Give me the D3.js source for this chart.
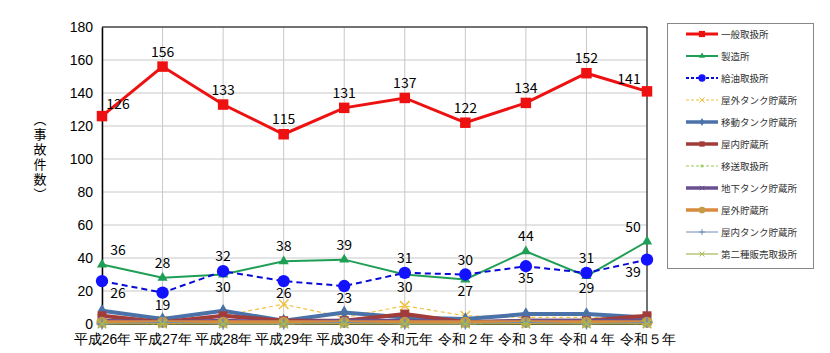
<!DOCTYPE html>
<meta charset="utf-8">
<script src="https://d3js.org/d3.v7.min.js"></script>
<style>
body { margin: 0; background: #fff; }
svg { font-family: "Noto Sans CJK JP", "Noto Sans", sans-serif; }
.lbl { font-size: 14px; fill: #000; text-anchor: middle; }
.legtext { font-size: 9.5px; fill: #333; }
</style>
<div id="chart"></div>
<script>
var years = ["平成26年","平成27年","平成28年","平成29年","平成30年","令和元年","令和２年","令和３年","令和４年","令和５年"];
var yTicks = [0,20,40,60,80,100,120,140,160,180];

var ippan      = [126,156,133,115,131,137,122,134,152,141];
var seizo      = [36,28,30,38,39,30,27,44,29,50];
var kyuyu      = [26,19,32,26,23,31,30,35,31,39];
var okugaiTank = [3,2,5,12,4,11,5,4,4,3];
var idoTank    = [8,3,8,2,7,4,3,6,6,4];
var okunai     = [5,1,5,2,2,6,1,2,2,5];
var isou       = [1,0,1,0,1,1,0,1,1,0];
var chikaTank  = [2,1,2,1,2,2,1,2,2,2];
var okugai     = [1,1,1,1,1,1,1,1,1,1];
var okunaiTank = [0,1,0,0,1,0,0,1,0,1];
var dai2       = [0,0,0,0,0,0,0,0,0,0];

var series = [
  {name:"一般取扱所", values:ippan, color:"#ee1111", w:3, dash:null, sym:"square", size:110},
  {name:"製造所", values:seizo, color:"#1f9e55", w:2, dash:null, sym:"triangle", size:45},
  {name:"給油取扱所", values:kyuyu, color:"#0a0ad8", w:2, dash:"6,4", sym:"circle", size:120, mfill:"#1212ff"},
  {name:"屋外タンク貯蔵所", values:okugaiTank, color:"#f0c040", w:1.2, dash:"4,3", sym:"x", size:60},
  {name:"移動タンク貯蔵所", values:idoTank, color:"#4a72a8", w:4, dash:null, sym:"diamond", size:55},
  {name:"屋内貯蔵所", values:okunai, color:"#a23c3a", w:4, dash:null, sym:"square", size:80},
  {name:"移送取扱所", values:isou, color:"#9ccc5a", w:1.2, dash:"4,3", sym:"square", size:20},
  {name:"地下タンク貯蔵所", values:chikaTank, color:"#6a4f8f", w:4, dash:null, sym:"x", size:40},
  {name:"屋外貯蔵所", values:okugai, color:"#d98a3c", w:4, dash:null, sym:"circle", size:100, mfill:"#c49a45"},
  {name:"屋内タンク貯蔵所", values:okunaiTank, color:"#6f8db5", w:1, dash:null, sym:"plus", size:40},
  {name:"第二種販売取扱所", values:dai2, color:"#a8b850", w:1.2, dash:null, sym:"x", size:50}
];

var W = 830, H = 353;
var svg = d3.select("#chart").append("svg").attr("width", W).attr("height", H);

var x = d3.scalePoint().domain(years).range([102, 647]);
var y = d3.scaleLinear().domain([0, 180]).range([324, 27]);

// grid
svg.append("g").selectAll("line.h").data(yTicks).enter().append("line")
  .attr("x1", 102).attr("x2", 647).attr("y1", d => y(d)).attr("y2", d => y(d))
  .attr("stroke", "#c8c8c8").attr("stroke-width", 1);
svg.append("g").selectAll("line.v").data(years).enter().append("line")
  .attr("x1", d => x(d)).attr("x2", d => x(d)).attr("y1", y(180)).attr("y2", y(0))
  .attr("stroke", "#c8c8c8").attr("stroke-width", 1);
// frame
svg.append("line").attr("x1",102).attr("x2",647).attr("y1",y(180)).attr("y2",y(180)).attr("stroke","#000");
svg.append("line").attr("x1",647).attr("x2",647).attr("y1",y(180)).attr("y2",y(0)).attr("stroke","#000");

// axes
var yAxis = svg.append("g").attr("transform", "translate(102,0)")
  .call(d3.axisLeft(y).tickValues(yTicks).tickSize(0).tickPadding(9));
yAxis.select(".domain").attr("stroke", "#000").attr("stroke-width", 1.5);
yAxis.selectAll("text").attr("font-size", 14).attr("fill", "#000").attr("font-family", "inherit");

var xAxis = svg.append("g").attr("transform", "translate(0,324)")
  .call(d3.axisBottom(x).tickSize(0).tickPadding(10));
xAxis.select(".domain").attr("stroke", "#000");
xAxis.selectAll("text").attr("font-size", 14).attr("fill", "#000").attr("font-family", "inherit");

svg.append("text").attr("x", 40).attr("y", 113)
  .style("writing-mode", "vertical-rl").style("letter-spacing", "2px")
  .attr("font-size", 13).attr("fill", "#000")
  .text("（事故件数）");

function symType(s) {
  if (s === "square") return d3.symbolSquare;
  if (s === "triangle") return d3.symbolTriangle;
  if (s === "circle") return d3.symbolCircle;
  if (s === "diamond") return d3.symbolDiamond;
  if (s === "x") return d3.symbolTimes || d3.symbolX || d3.symbolCross;
  if (s === "plus") return d3.symbolPlus || d3.symbolCross;
  return d3.symbolCircle;
}
function isStroke(s) { return s === "x" || s === "plus"; }

var line = d3.line().x((d, i) => x(years[i])).y(d => y(d));

series.forEach(function(s) {
  var g = svg.append("g");
  g.append("path").datum(s.values).attr("d", line)
    .attr("fill", "none").attr("stroke", s.color).attr("stroke-width", s.w)
    .attr("stroke-dasharray", s.dash);
  g.selectAll("path.m").data(s.values).enter().append("path")
    .attr("transform", (d, i) => "translate(" + x(years[i]) + "," + y(d) + ")")
    .attr("d", d3.symbol().type(symType(s.sym)).size(s.size))
    .attr("fill", isStroke(s.sym) ? "none" : (s.mfill || s.color))
    .attr("stroke", isStroke(s.sym) ? s.color : "none")
    .attr("stroke-width", 1.5);
});

// data labels
var last = years.length - 1;
var labels = svg.append("g");
ippan.forEach(function(v, i) {
  var dx = i === 0 ? 16 : (i === last ? -18 : 0);
  labels.append("text").attr("class", "lbl")
    .attr("x", x(years[i]) + dx).attr("y", y(v) - (i === 0 || i === last ? 7 : 10))
    .text(v);
});
seizo.forEach(function(g, i) {
  var b = kyuyu[i];
  var dx = i === 0 ? 16 : (i === last ? -14 : 0);
  var gHigh = g >= b;
  labels.append("text").attr("class", "lbl")
    .attr("x", x(years[i]) + dx).attr("y", gHigh ? y(g) - 10 : y(g) + 17).text(g);
  labels.append("text").attr("class", "lbl")
    .attr("x", x(years[i]) + dx).attr("y", gHigh ? y(b) + 17 : y(b) - 10).text(b);
});

// legend
var leg = svg.append("g");
leg.append("rect").attr("x", 667.5).attr("y", 23.5).attr("width", 146).attr("height", 245)
  .attr("fill", "#fff").attr("stroke", "#888");
series.forEach(function(s, i) {
  var ly = 34 + i * 22;
  var g = leg.append("g");
  g.append("line").attr("x1", 686).attr("x2", 718).attr("y1", ly).attr("y2", ly)
    .attr("stroke", s.color).attr("stroke-width", Math.min(s.w, 3.5))
    .attr("stroke-dasharray", s.dash ? "3,2" : null);
  g.append("path").attr("transform", "translate(702," + ly + ")")
    .attr("d", d3.symbol().type(symType(s.sym)).size(s.size * 0.35))
    .attr("fill", isStroke(s.sym) ? "none" : (s.mfill || s.color))
    .attr("stroke", isStroke(s.sym) ? s.color : "none");
  g.append("text").attr("class", "legtext").attr("x", 721).attr("y", ly + 3.5).text(s.name);
});
</script>
